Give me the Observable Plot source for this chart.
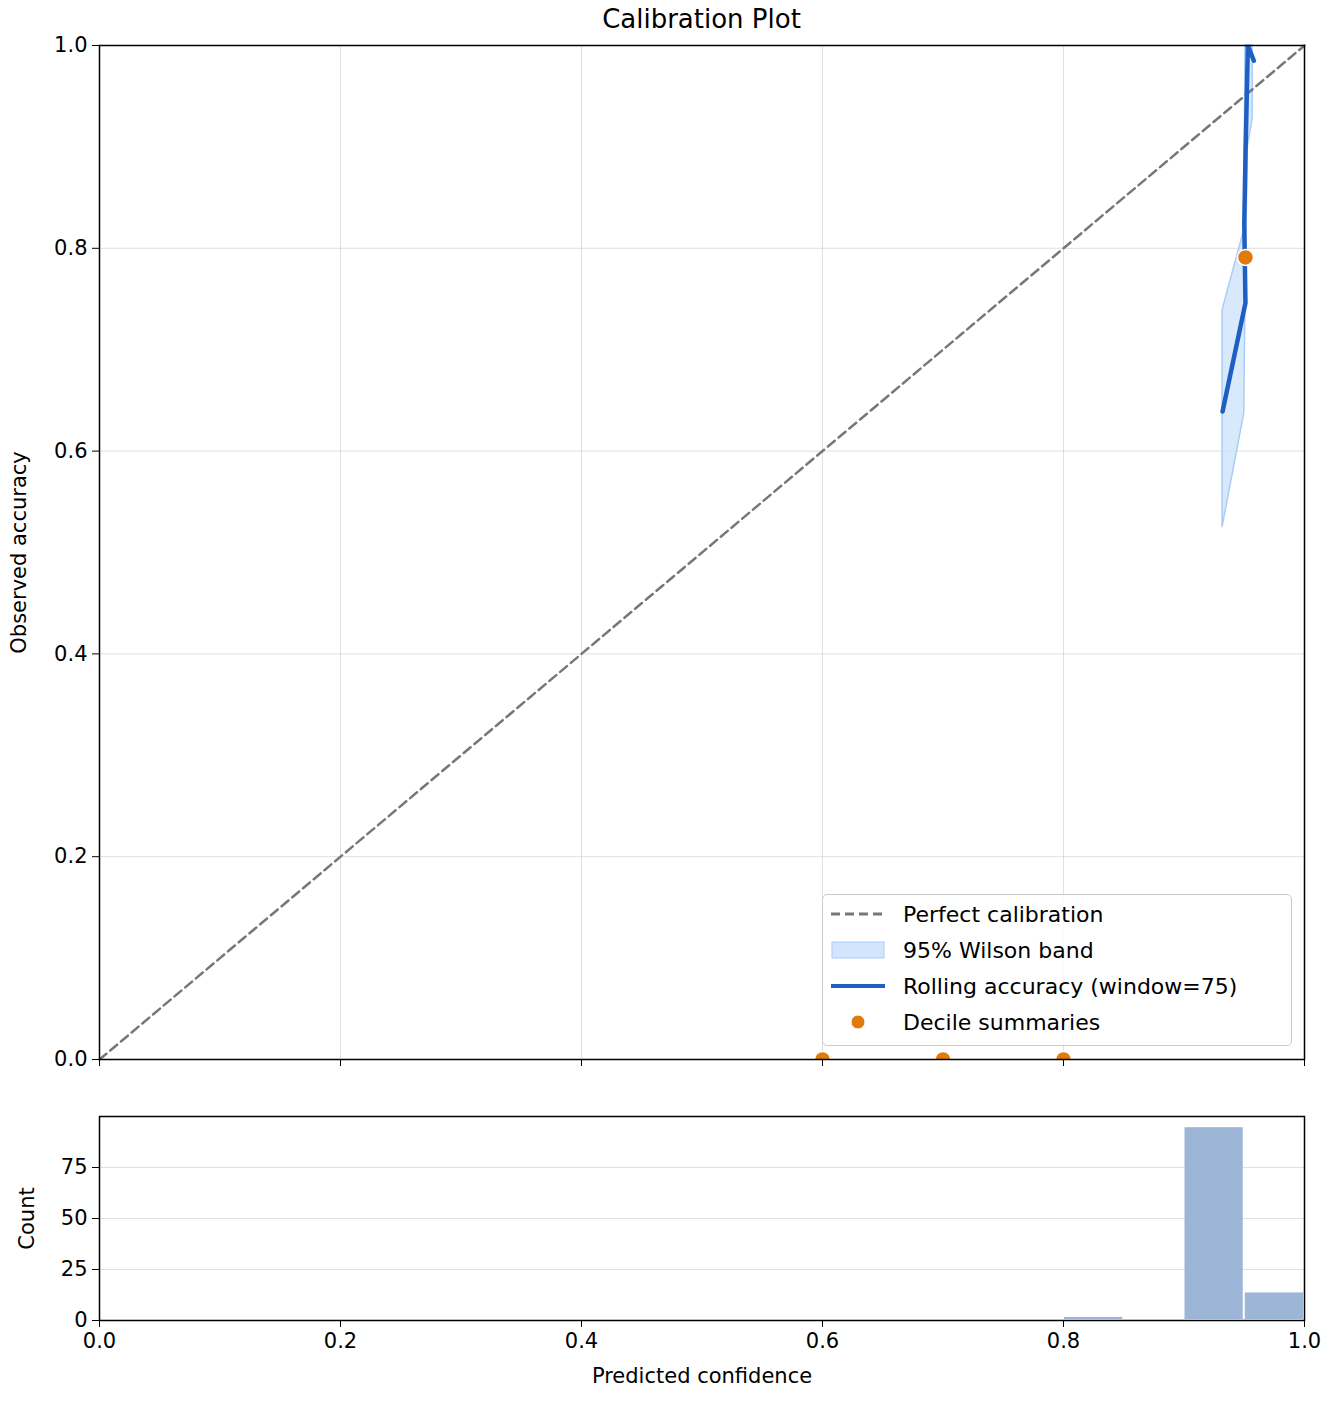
<!DOCTYPE html>
<html><head><meta charset="utf-8">
<script src="https://cdn.jsdelivr.net/npm/d3@7"></script>
<script src="https://cdn.jsdelivr.net/npm/@observablehq/plot@0.6"></script>
<style>
body{margin:0;background:#fff;font-family:"DejaVu Sans",sans-serif;}
#wrap{position:relative;width:1332px;}
#title{position:absolute;left:0;width:1403px;top:4px;text-align:center;font-size:26px;}
#legend{position:absolute;left:822px;top:894px;width:468px;height:150px;border:1.5px solid #ccc;border-radius:5px;background:rgba(255,255,255,0.85);font-size:22px;}
.row{position:absolute;left:8px;display:flex;align-items:center;}
.row span{margin-left:18px;}
svg{display:block;}
</style></head><body>
<div id="wrap">
<div id="title">Calibration Plot</div>
<div id="main"></div>
<div id="hist"></div>
<div id="legend">
 <div class="row" style="top:5px"><svg width="54" height="28"><line x1="0" x2="54" y1="14" y2="14" stroke="#777" stroke-width="3" stroke-dasharray="9,5"/></svg><span>Perfect calibration</span></div>
 <div class="row" style="top:41px"><svg width="54" height="28"><rect x="1" y="6" width="52" height="16" fill="#d3e5fc" stroke="#a9cdf7"/></svg><span>95% Wilson band</span></div>
 <div class="row" style="top:77px"><svg width="54" height="28"><line x1="0" x2="54" y1="14" y2="14" stroke="#1f5fc4" stroke-width="4"/></svg><span>Rolling accuracy (window=75)</span></div>
 <div class="row" style="top:113px"><svg width="54" height="28"><circle cx="27" cy="14" r="7" fill="#e07b0c" stroke="#fff"/></svg><span>Decile summaries</span></div>
</div>
</div>
<script>
const diagX = [0, 1];
const rollX = [0.932, 0.951, 0.950, 0.951, 0.953, 0.958];
const rollY = [0.639, 0.746, 0.824, 0.890, 1.000, 0.985];
const bandX = [0.932, 0.950, 0.951, 0.953, 0.957];
const bandLo = [0.525, 0.637, 0.750, 0.900, 0.928];
const bandHi = [0.739, 0.818, 1.000, 1.000, 1.000];
const decX = [0.6, 0.7, 0.8, 0.951];
const decY = [0.0, 0.0, 0.0, 0.791];
const binStart = [0.80, 0.90, 0.95];
const binEnd = [0.85, 0.95, 1.00];
const binCount = [2, 95, 14];
const ticks = [0, 0.2, 0.4, 0.6, 0.8, 1.0];
const countTicks = [0, 25, 50, 75];

const roll = rollX.map((x,i)=>({x, y: rollY[i]}));
const band = bandX.map((x,i)=>({x, lo: bandLo[i], hi: bandHi[i]}));
const dec = decX.map((x,i)=>({x, y: decY[i]}));
const bins = binStart.map((s,i)=>({x1:s, x2:binEnd[i], c:binCount[i]}));
const font = {fontFamily:"DejaVu Sans", fontSize:"21px", color:"#000", background:"#fff"};

const main = Plot.plot({
  width:1332, height:1080, marginLeft:99, marginRight:28, marginTop:45, marginBottom:21,
  style:font,
  x:{domain:[0,1], label:null},
  y:{domain:[0,1], label:null},
  marks:[
    Plot.gridX(ticks,{stroke:"#ccc", strokeOpacity:0.6}),
    Plot.gridY(ticks,{stroke:"#ccc", strokeOpacity:0.6}),
    Plot.areaY(band,{x:"x", y1:"lo", y2:"hi", fill:"#cfe3fb", fillOpacity:0.8, stroke:"#a9cdf7", strokeWidth:1.5}),
    Plot.line(diagX.map(v=>({v})),{x:"v", y:"v", stroke:"#777", strokeWidth:2.5, strokeDasharray:"9,5"}),
    Plot.line(roll,{x:"x", y:"y", stroke:"#1f5fc4", strokeWidth:4.5, clip:true}),
    Plot.dot(dec,{x:"x", y:"y", r:8, fill:"#e07b0c", stroke:"#fff", strokeWidth:1.5, clip:true}),
    Plot.frame({stroke:"#000", strokeWidth:1.5}),
    Plot.axisX(ticks,{tickFormat:()=>"", tickSize:7, label:null}),
    Plot.axisY(ticks,{tickFormat:".1f", tickSize:7, tickPadding:5, label:null, fontSize:21}),
    Plot.text(["Observed accuracy"],{frameAnchor:"left", dx:-80, rotate:-90, textAnchor:"middle", fontSize:21})
  ]
});
document.getElementById("main").appendChild(main);

const hist = Plot.plot({
  width:1332, height:324, marginLeft:99, marginRight:28, marginTop:36, marginBottom:84,
  style:font,
  x:{domain:[0,1], label:null},
  y:{domain:[0,100], label:null},
  marks:[
    Plot.gridY(countTicks.slice(1),{stroke:"#ccc", strokeOpacity:0.6}),
    Plot.rectY(bins,{x1:"x1", x2:"x2", y:"c", fill:"#9db5d6", inset:1}),
    Plot.frame({stroke:"#000", strokeWidth:1.5}),
    Plot.axisX(ticks,{tickFormat:".1f", tickSize:7, tickPadding:6, label:null, fontSize:21}),
    Plot.axisY(countTicks,{tickSize:7, tickPadding:5, label:null, fontSize:21}),
    Plot.text(["Count"],{frameAnchor:"left", dx:-72, rotate:-90, textAnchor:"middle", fontSize:21}),
    Plot.text(["Predicted confidence"],{frameAnchor:"bottom", dy:62, fontSize:21})
  ]
});
document.getElementById("hist").appendChild(hist);
</script>
</body></html>
